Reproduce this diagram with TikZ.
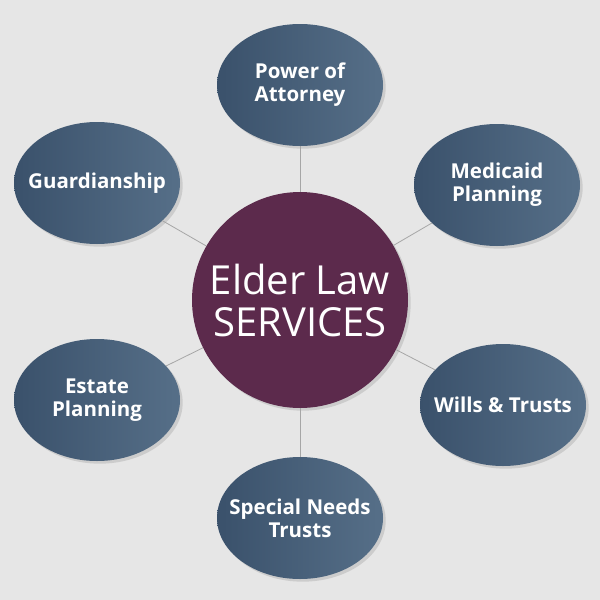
\documentclass[tikz,border=0pt]{standalone}
\usepackage{fontspec}
\setmainfont{Open Sans}
\usetikzlibrary{shapes.geometric,shadows}
\definecolor{bg}{HTML}{E6E6E6}
\definecolor{plum}{HTML}{5C2A4C}
\definecolor{slateL}{HTML}{3A516B}
\definecolor{slateR}{HTML}{566F88}
\tikzset{
  svc/.style={ellipse, minimum width=166pt, minimum height=122pt, left color=slateL, right color=slateR, draw=none,
    inner sep=0pt, drop shadow={opacity=0.25}},
  lbl/.style={text=white, align=center, font=\fontsize{20.5}{23}\selectfont\bfseries, inner sep=0pt},
  hub/.style={circle, minimum size=216pt, fill=plum, text=white, align=center, inner sep=0pt,
    font=\fontsize{40}{42}\selectfont, drop shadow={opacity=0.25}},
  link/.style={draw=gray!70, line width=0.8pt}
}
\begin{document}
\begin{tikzpicture}[x=1pt,y=-1pt]
\fill[bg] (0,0) rectangle (600,600);
\useasboundingbox (0,0) rectangle (600,600);
\node[hub] (c) at (300,300) {Elder Law\\SERVICES};
\node[svc] (poa) at (300,85) {};
\node[svc] (med) at (497,185) {};
\node[svc] (gua) at (97,183) {};
\node[svc] (est) at (97,400) {};
\node[svc] (wil) at (503,405) {};
\node[svc] (spn) at (300,518) {};
\node[lbl] (tpoa) at (poa) {Power of\\Attorney};
\node[lbl] (tmed) at (med) {Medicaid\\Planning};
\node[lbl] (tgua) at (gua) {Guardianship};
\node[lbl] (test) at (est) {Estate\\Planning};
\node[lbl] (twil) at (wil) {Wills \& Trusts};
\node[lbl] (tspn) at (spn) {Special Needs\\Trusts};
\foreach \n in {poa,med,gua,est,wil,spn}{
  \draw[link] (c) -- (\n);
}
\end{tikzpicture}
\end{document}
